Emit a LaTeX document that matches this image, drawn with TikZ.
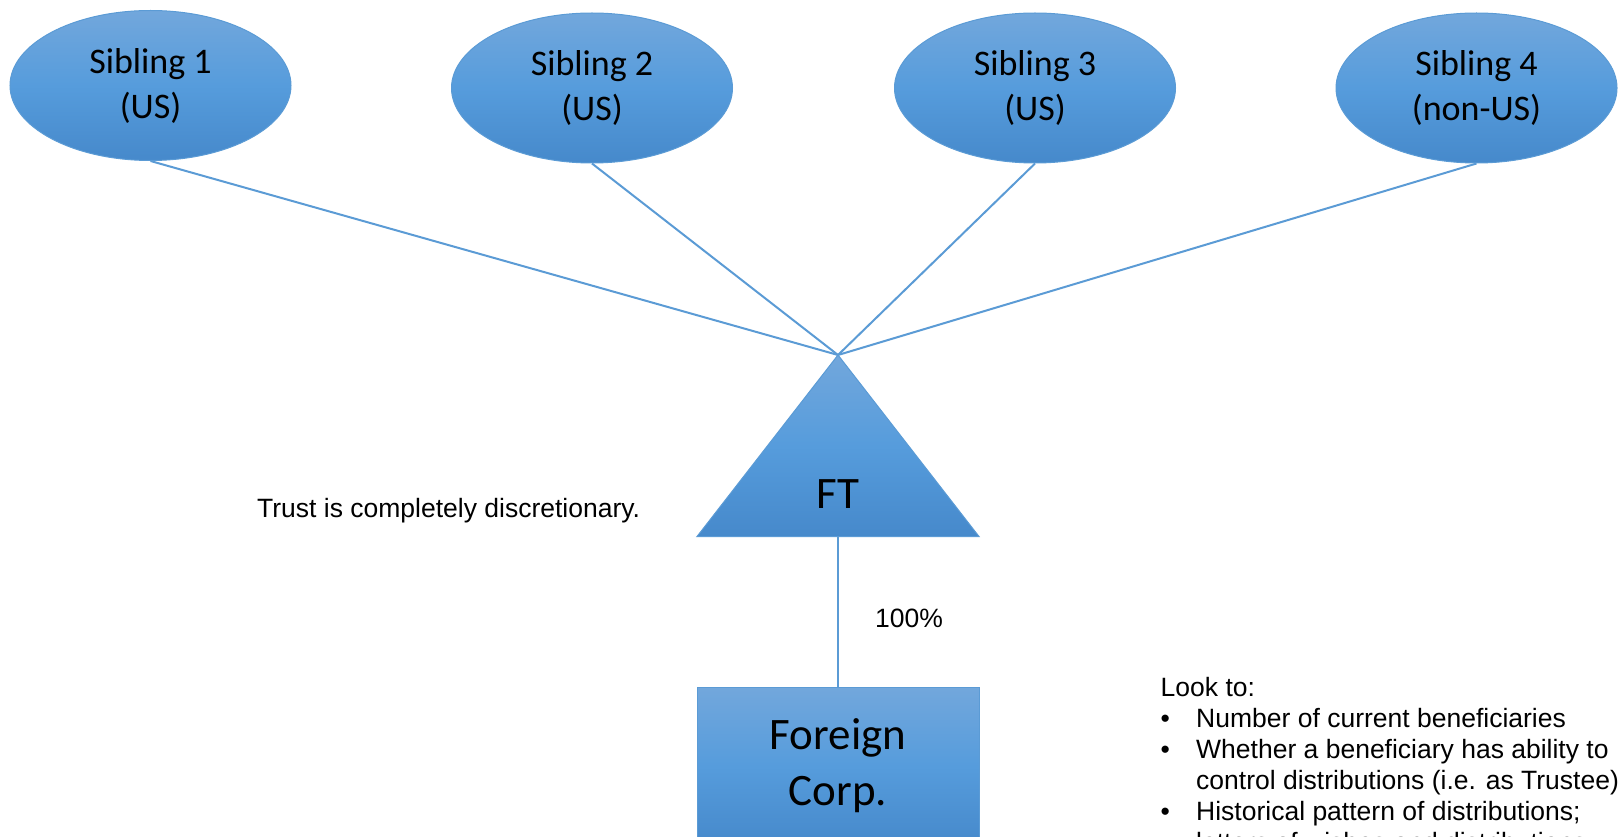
\documentclass[tikz,border=0pt]{standalone}
\usepackage{fontspec}
\setmainfont{Carlito}
\newfontfamily\arialf{Liberation Sans}
\usetikzlibrary{shapes.geometric}
\definecolor{lineblue}{HTML}{5B9BD5}
\definecolor{topblue}{HTML}{72A7DC}
\definecolor{midblue}{HTML}{569CDC}
\definecolor{botblue}{HTML}{4689CB}
\tikzset{
  grad/.style={top color=topblue, bottom color=botblue, middle color=midblue},
  sib/.style={ellipse, grad, draw=lineblue, line width=1pt, minimum width=281pt,
    minimum height=150pt, inner sep=0pt, align=center,
    font=\fontsize{36}{45}\selectfont},
  conn/.style={draw=lineblue, line width=2pt},
  note/.style={font=\arialf\fontsize{26.5}{31}\selectfont, inner sep=0pt, align=left}
}
\begin{document}
\begin{tikzpicture}[x=1pt,y=1pt]
\useasboundingbox (0,0) rectangle (1624,-837);
% siblings
\node[sib] (s1) at (150.5,-85.5) {Sibling 1\\(US)};
\node[sib] (s2) at (592,-88) {Sibling 2\\(US)};
\node[sib] (s3) at (1035,-88) {Sibling 3\\(US)};
\node[sib] (s4) at (1476.5,-88) {Sibling 4\\(non-US)};
% trust triangle
\coordinate (apex) at (838,-355);
\coordinate (bl) at (697,-536.5);
\coordinate (br) at (979,-536.5);
\coordinate (basemid) at (838,-536.5);
\path[grad, draw=lineblue, line width=1pt] (apex) -- (br) -- (bl) -- cycle;
\node[font=\fontsize{45}{54}\selectfont, inner sep=0pt] (ft) at (838,-494) {FT};
% connectors
\draw[conn] (s1.south) -- (apex);
\draw[conn] (s2.south) -- (apex);
\draw[conn] (s3.south) -- (apex);
\draw[conn] (s4.south) -- (apex);
% foreign corp
\node[grad, draw=lineblue, line width=1pt, minimum width=282pt, minimum height=158pt,
  inner sep=0pt, align=center, font=\fontsize{45}{56}\selectfont] (fc) at (838,-766) {Foreign\\Corp.};
\draw[conn] (basemid) -- (fc.north);
% labels
\node[note, anchor=west] (pct) at (875,-618) {100\%};
\node[note, anchor=base west] (trust) at (257,-517) {Trust is completely discretionary.};
\node[note, anchor=base west] (look) at (1160.5,-851) {Look to:\\
\makebox[35.5pt][l]{•}Number of current beneficiaries\\
\makebox[35.5pt][l]{•}Whether a beneficiary has ability to\\
\hspace*{35.5pt}control distributions (i.e. as Trustee)\\
\makebox[35.5pt][l]{•}Historical pattern of distributions;\\
\hspace*{35.5pt}letters of wishes and distributions};
\end{tikzpicture}
\end{document}
